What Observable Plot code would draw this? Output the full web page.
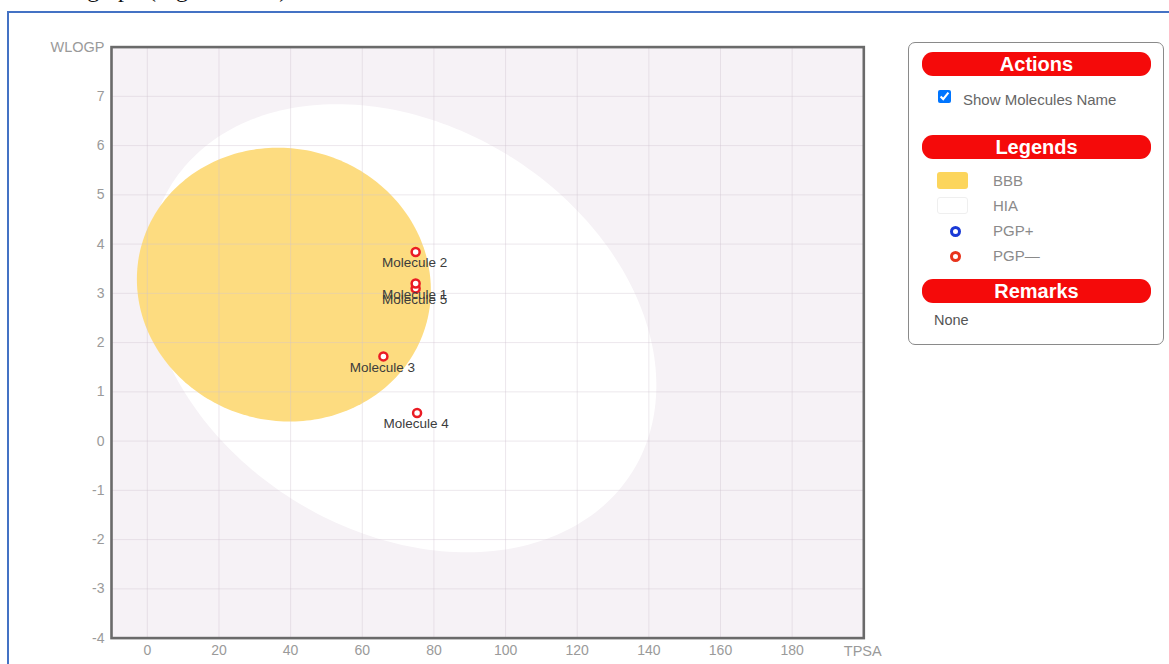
<!DOCTYPE html>
<html>
<head>
<meta charset="utf-8">
<script src="https://cdn.jsdelivr.net/npm/d3@7"></script>
<script src="https://cdn.jsdelivr.net/npm/@observablehq/plot@0.6"></script>
<style>
  html, body { margin: 0; padding: 0; background: #ffffff; width: 1169px; height: 664px; overflow: hidden; position: relative; font-family: "Liberation Sans", Arial, sans-serif; }
  #doc-text { position: absolute; left: 44px; top: -23px; font-family: "Liberation Serif", "Times New Roman", serif; font-size: 24px; line-height: 24px; color: #111; white-space: nowrap; }
  #border { position: absolute; left: 7px; top: 11px; width: 1200px; height: 700px; border: 2px solid #4472c4; box-sizing: border-box; }
  #chart { position: absolute; left: 0; top: 0; }
  #panel { position: absolute; left: 908px; top: 42px; width: 256px; height: 303px; box-sizing: border-box; border: 1.5px solid #8a8a8a; border-radius: 7px; background: #fff; }
  .pill { position: absolute; left: 13px; width: 229px; height: 24px; border-radius: 11px; background: #f50a0a; color: #fff; font-weight: bold; font-size: 20px; line-height: 24px; text-align: center; }
  .ptext { position: absolute; font-size: 15px; color: #8a8a8a; line-height: 18px; }
  .swatch { position: absolute; left: 28px; width: 31px; height: 17px; border-radius: 3px; box-sizing: border-box; }
  .ring { position: absolute; left: 41px; width: 11px; height: 11px; border-radius: 50%; box-sizing: border-box; border: 3px solid; background: #fff; }
</style>
</head>
<body>
<div id="doc-text">The graph (Figure 3 &amp; 4)</div>
<div id="border"></div>
<div id="chart"></div>
<div id="panel">
  <div class="pill" style="top:9px">Actions</div>
  <input type="checkbox" checked style="position:absolute; left:29px; top:47px; width:13px; height:13px; margin:0;">
  <div class="ptext" style="left:54px; top:48px; font-size:15px; color:#666;">Show Molecules Name</div>
  <div class="pill" style="top:92px">Legends</div>
  <div class="swatch" style="top:129px; background:#fcd55c;"></div>
  <div class="ptext" style="left:84px; top:129px;">BBB</div>
  <div class="swatch" style="top:154px; background:#fff; border:1px solid #efefef;"></div>
  <div class="ptext" style="left:84px; top:154px;">HIA</div>
  <div class="ring" style="top:183px; border-color:#1a3ad6;"></div>
  <div class="ptext" style="left:84px; top:179px;">PGP+</div>
  <div class="ring" style="top:208px; border-color:#e8341c;"></div>
  <div class="ptext" style="left:84px; top:204px;">PGP—</div>
  <div class="pill" style="top:236px">Remarks</div>
  <div class="ptext" style="left:25px; top:268px; color:#555; font-size:14.5px;">None</div>
</div>
<script>
// ---- data ----
const moleculeNames = ["Molecule 1", "Molecule 2", "Molecule 3", "Molecule 4", "Molecule 5"];
const moleculeTPSA  = [74.9, 74.9, 65.9, 75.3, 74.9];
const moleculeWLOGP = [3.20, 3.84, 1.72, 0.57, 3.10];
const moleculePGP   = ["PGP-", "PGP-", "PGP-", "PGP-", "PGP-"];

const ellipseNames = ["HIA", "BBB"];
const ellipseCx    = [71.051, 38.117];   // TPSA centre
const ellipseCy    = [2.292, 3.177];     // WLOGP centre
const ellipseRx    = [71.04, 41.03];     // half extent in TPSA
const ellipseRy    = [4.55, 2.78];       // half extent in WLOGP
const ellipseRho   = [-0.255, -0.04];    // x/y coupling (tilt)
const ellipseColor = ["#ffffff", "#fddc80"];

const xTicks = [0, 20, 40, 60, 80, 100, 120, 140, 160, 180];
const yTicks = [-4, -3, -2, -1, 0, 1, 2, 3, 4, 5, 6, 7];

// ---- build tables ----
const molecules = moleculeNames.map((n, i) => ({name: n, tpsa: moleculeTPSA[i], wlogp: moleculeWLOGP[i], pgp: moleculePGP[i]}));
const drawOrder = [4, 0, 1, 2, 3].map(i => molecules[i]);

function ellipseOutline(k) {
  const pts = [];
  const delta = Math.acos(ellipseRho[k]);
  const N = 240;
  for (let j = 0; j <= N; j++) {
    const t = 2 * Math.PI * j / N;
    pts.push({name: ellipseNames[k],
      tpsa: ellipseCx[k] + ellipseRx[k] * Math.cos(t),
      wlogp: ellipseCy[k] + ellipseRy[k] * Math.cos(t - delta)});
  }
  return pts;
}
const hia = ellipseOutline(0);
const bbb = ellipseOutline(1);

const W = 900, H = 664;
const chart = Plot.plot({
  width: W,
  height: H,
  marginLeft: 111,
  marginRight: W - 863.3,
  marginTop: 46.6,
  marginBottom: H - 637.6,
  style: {background: "transparent", fontFamily: "'Liberation Sans', Arial, sans-serif", fontSize: "14px", color: "#9a9a9a", overflow: "visible"},
  x: {domain: [-10, 200]},
  y: {domain: [-4, 8]},
  marks: [
    Plot.frame({fill: "#f6f2f6"}),
    Plot.line(hia, {x: "tpsa", y: "wlogp", fill: ellipseColor[0], stroke: "none", curve: "linear-closed"}),
    Plot.line(bbb, {x: "tpsa", y: "wlogp", fill: ellipseColor[1], stroke: "none", curve: "linear-closed"}),
    Plot.gridX(xTicks, {stroke: "#cfc3cf", strokeOpacity: 0.4, strokeWidth: 1}),
    Plot.gridY(yTicks, {stroke: "#cfc3cf", strokeOpacity: 0.4, strokeWidth: 1}),
    Plot.axisX(xTicks, {tickSize: 0, tickPadding: 7, label: null, fill: "#9a9a9a", tickFormat: d => String(d)}),
    Plot.axisY(yTicks, {tickSize: 0, tickPadding: 7, label: null, fill: "#9a9a9a", tickFormat: d => String(d)}),
    Plot.text(["WLOGP"], {frameAnchor: "top-left", lineAnchor: "middle", dx: -7, textAnchor: "end", fill: "#9a9a9a", fontSize: 14.5}),
    Plot.text(["TPSA"], {frameAnchor: "bottom-right", lineAnchor: "middle", dx: -20, dy: 13.5, textAnchor: "start", fill: "#9a9a9a", fontSize: 14.5}),
    Plot.dot(drawOrder, {x: "tpsa", y: "wlogp", r: 4, stroke: "#ea1c24", strokeWidth: 2.5, fill: "#ffffff"}),
    Plot.text(drawOrder, {x: "tpsa", y: "wlogp", text: "name", dy: 11, dx: -1, fill: "#3c3c3c", fontSize: 13.5}),
    Plot.frame({stroke: "#6a6a6a", strokeWidth: 2.6})
  ]
});
document.getElementById("chart").appendChild(chart);
</script>
</body>
</html>
